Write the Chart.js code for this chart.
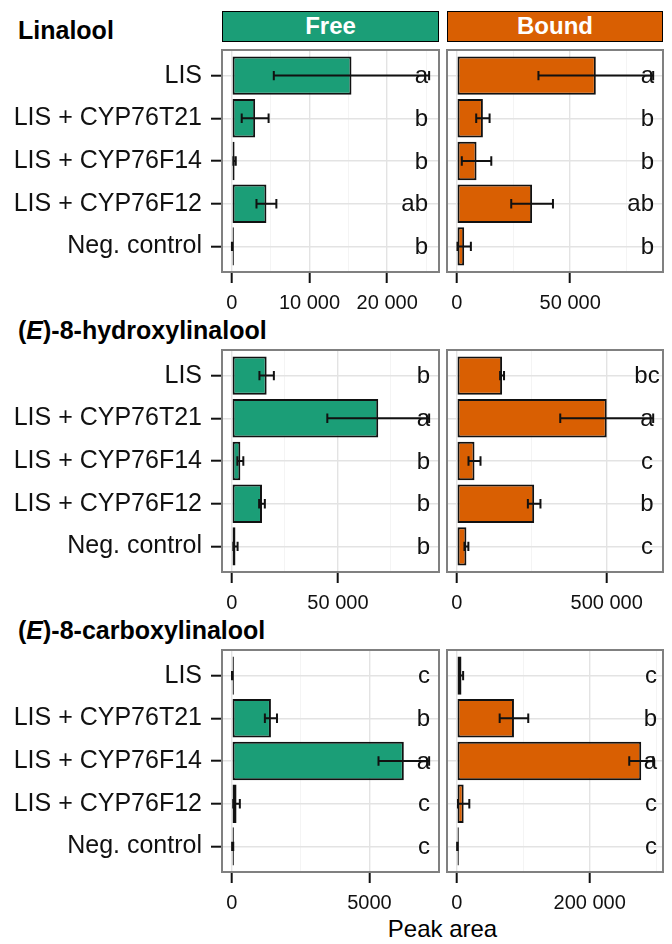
<!DOCTYPE html>
<html><head><meta charset="utf-8">
<script src="https://cdn.jsdelivr.net/npm/chart.js@4.4.1/dist/chart.umd.min.js"></script>
<style>
body{margin:0;background:#fff;}
#wrap{position:relative;width:672px;height:944px;overflow:hidden;font-family:'Liberation Sans',Arial,Helvetica,sans-serif;background:#fff;}
canvas{position:absolute;}
.title{position:absolute;left:18px;font-weight:bold;font-size:25px;line-height:25px;white-space:nowrap;color:#000;}
.strip{position:absolute;top:11px;height:31px;box-sizing:border-box;border:1.5px solid #000;color:#fff;font-weight:bold;font-size:24px;line-height:28px;text-align:center;}
.xlab{position:absolute;left:222px;width:441px;top:917px;font-size:24px;line-height:24px;text-align:center;color:#000;}
</style></head>
<body><div id="wrap">
<div class="strip" style="left:222px;width:217px;background:#1b9e77;">Free</div>
<div class="strip" style="left:447px;width:216px;background:#d95f02;">Bound</div>
<div class="title" style="top:18px;">Linalool</div>
<div class="title" style="top:318px;">(<i>E</i>)-8-hydroxylinalool</div>
<div class="title" style="top:618px;">(<i>E</i>)-8-carboxylinalool</div>
<div class="xlab">Peak area</div>
</div>
<script>
// ---------- data ----------
const categories = ['LIS', 'LIS + CYP76T21', 'LIS + CYP76F14', 'LIS + CYP76F12', 'Neg. control'];

const linaloolFreeMean  = [15400, 3000, 350, 4450, 30];
const linaloolFreeSE    = [10000, 1730, 150, 1280, 20];
const linaloolFreeLetters = ['a', 'b', 'b', 'ab', 'b'];
const linaloolBoundMean = [61300, 11500, 8700, 33200, 3250];
const linaloolBoundSE   = [25300, 2950, 6500, 9200, 2950];
const linaloolBoundLetters = ['a', 'b', 'b', 'ab', 'b'];

const hydroxyFreeMean  = [16400, 69000, 4000, 14200, 1700];
const hydroxyFreeSE    = [3400, 24000, 1400, 1350, 1000];
const hydroxyFreeLetters = ['b', 'a', 'b', 'b', 'b'];
const hydroxyBoundMean = [151000, 500000, 59000, 258000, 32000];
const hydroxyBoundSE   = [6500, 155000, 20000, 21000, 6500];
const hydroxyBoundLetters = ['bc', 'a', 'c', 'b', 'c'];

const carboxyFreeMean  = [10, 1420, 6250, 170, 30];
const carboxyFreeSE    = [5, 220, 920, 120, 20];
const carboxyFreeLetters = ['c', 'b', 'a', 'c', 'c'];
const carboxyBoundMean = [7000, 86000, 277500, 10300, 800];
const carboxyBoundSE   = [2500, 21500, 18000, 8500, 300];
const carboxyBoundLetters = ['c', 'b', 'a', 'c', 'c'];

const linaloolFreeTicks = [0, 10000, 20000];
const linaloolFreeTickLabels = ['0', '10 000', '20 000'];
const linaloolBoundTicks = [0, 50000];
const linaloolBoundTickLabels = ['0', '50 000'];
const hydroxyFreeTicks = [0, 50000];
const hydroxyFreeTickLabels = ['0', '50 000'];
const hydroxyBoundTicks = [0, 500000];
const hydroxyBoundTickLabels = ['0', '500 000'];
const carboxyFreeTicks = [0, 5000];
const carboxyFreeTickLabels = ['0', '5000'];
const carboxyBoundTicks = [0, 200000];
const carboxyBoundTickLabels = ['0', '200 000'];

const freeColor = '#1b9e77';
const boundColor = '#d95f02';

// ---------- layout ----------
Chart.defaults.font.family = "'Liberation Sans', Arial, Helvetica, sans-serif";
Chart.defaults.color = '#111';

const panels = [
  {mean: linaloolFreeMean, se: linaloolFreeSE, letters: linaloolFreeLetters, ticks: linaloolFreeTicks, tickLabels: linaloolFreeTickLabels, color: freeColor, free: true, top: 50, lblAlign: 'right', lblOff: 11},
  {mean: linaloolBoundMean, se: linaloolBoundSE, letters: linaloolBoundLetters, ticks: linaloolBoundTicks, tickLabels: linaloolBoundTickLabels, color: boundColor, free: false, top: 50, lblAlign: 'right', lblOff: 9},
  {mean: hydroxyFreeMean, se: hydroxyFreeSE, letters: hydroxyFreeLetters, ticks: hydroxyFreeTicks, tickLabels: hydroxyFreeTickLabels, color: freeColor, free: true, top: 350, lblAlign: 'right', lblOff: 9},
  {mean: hydroxyBoundMean, se: hydroxyBoundSE, letters: hydroxyBoundLetters, ticks: hydroxyBoundTicks, tickLabels: hydroxyBoundTickLabels, color: boundColor, free: false, top: 350, lblAlign: 'center', lblOff: 16},
  {mean: carboxyFreeMean, se: carboxyFreeSE, letters: carboxyFreeLetters, ticks: carboxyFreeTicks, tickLabels: carboxyFreeTickLabels, color: freeColor, free: true, top: 650, lblAlign: 'right', lblOff: 9},
  {mean: carboxyBoundMean, se: carboxyBoundSE, letters: carboxyBoundLetters, ticks: carboxyBoundTicks, tickLabels: carboxyBoundTickLabels, color: boundColor, free: false, top: 650, lblAlign: 'right', lblOff: 6}
];

const wrap = document.getElementById('wrap');
const PANEL_H = 222;

panels.forEach(p => {
  const cv = document.createElement('canvas');
  const left = p.free ? 0 : 441;
  const w = p.free ? 445 : 231;
  const h = 10 + PANEL_H + 42;
  cv.width = w; cv.height = h;
  cv.style.left = left + 'px';
  cv.style.top = (p.top - 10) + 'px';
  cv.style.width = w + 'px'; cv.style.height = h + 'px';
  wrap.appendChild(cv);

  const D = Math.max(...p.mean.map((m, i) => m + p.se[i]));
  const xmin = -0.05 * D, xmax = 1.05 * D;
  const half = (p.ticks[1] - p.ticks[0]) / 2;
  const isMajor = v => p.ticks.some(t => Math.abs(t - v) < 1e-6);
  const labelFor = v => { const k = p.ticks.findIndex(t => Math.abs(t - v) < 1e-6); return k >= 0 ? p.tickLabels[k] : ''; };

  const plugin = {
    id: 'panelDeco',
    afterDatasetsDraw(chart) {
      const ctx = chart.ctx, xs = chart.scales.x, ys = chart.scales.y;
      ctx.save();
      ctx.strokeStyle = '#111';
      ctx.lineWidth = 2;
      p.mean.forEach((m, i) => {
        const y = ys.getPixelForValue(i);
        const cap = Math.abs(ys.getPixelForValue(i + 0.11) - y);
        const x1 = xs.getPixelForValue(m - p.se[i]);
        const x2 = xs.getPixelForValue(m + p.se[i]);
        ctx.beginPath();
        ctx.moveTo(x1, y); ctx.lineTo(x2, y);
        ctx.moveTo(x1, y - cap); ctx.lineTo(x1, y + cap);
        ctx.moveTo(x2, y - cap); ctx.lineTo(x2, y + cap);
        ctx.stroke();
      });
      ctx.restore();
    },
    afterDraw(chart) {
      const ctx = chart.ctx, a = chart.chartArea, ys = chart.scales.y;
      ctx.save();
      ctx.font = "24px 'Liberation Sans', Arial, sans-serif";
      ctx.fillStyle = '#111';
      ctx.textAlign = p.lblAlign;
      ctx.textBaseline = 'middle';
      p.letters.forEach((l, i) => {
        ctx.fillText(l, a.right - p.lblOff, ys.getPixelForValue(i) + 1);
      });
      ctx.strokeStyle = '#808080';
      ctx.lineWidth = 2;
      ctx.strokeRect(a.left, a.top, a.right - a.left, a.bottom - a.top);
      ctx.restore();
    }
  };

  new Chart(cv, {
    type: 'bar',
    data: {
      datasets: [{
        data: p.mean.map((m, i) => ({x: m, y: i})),
        backgroundColor: p.color,
        borderColor: '#111',
        borderWidth: 2,
        borderSkipped: false,
        barPercentage: 0.9,
        categoryPercentage: 1,
        minBarLength: 2
      }]
    },
    options: {
      indexAxis: 'y',
      responsive: false,
      animation: false,
      events: [],
      layout: {padding: p.free ? {left: 0, right: 6, top: 10, bottom: 0} : {left: 6, right: 9, top: 10, bottom: 0}},
      plugins: {legend: {display: false}, tooltip: {enabled: false}},
      scales: {
        x: {
          type: 'linear', min: xmin, max: xmax, offset: false,
          afterBuildTicks: s => {
            const t = [];
            for (let k = Math.ceil(xmin / half); k * half <= xmax; k++) t.push({value: k * half});
            s.ticks = t;
          },
          ticks: {callback: v => labelFor(v), autoSkip: false, maxRotation: 0, minRotation: 0, padding: 8, font: {size: 20}, color: '#111'},
          grid: {
            offset: false,
            color: c => (c.tick && isMajor(c.tick.value)) ? '#e3e3e3' : '#f1f1f1',
            lineWidth: c => (c.tick && isMajor(c.tick.value)) ? 1.4 : 0.8,
            tickLength: 11,
            tickWidth: 2,
            tickColor: c => (c.tick && isMajor(c.tick.value)) ? '#111' : 'rgba(0,0,0,0)'
          },
          border: {display: false},
          afterFit: s => { s.height = 42; s.paddingLeft = 0; s.paddingRight = 0; }
        },
        y: {
          type: 'linear', min: -0.6, max: categories.length - 1 + 0.6, reverse: true, offset: false,
          afterBuildTicks: s => { s.ticks = categories.map((c, i) => ({value: i})); },
          ticks: {display: p.free, callback: v => categories[v], autoSkip: false, font: {size: 25}, color: '#111', padding: 9},
          grid: {offset: false, color: '#e3e3e3', lineWidth: 1.4, drawTicks: p.free, tickLength: 11, tickWidth: 2, tickColor: '#111'},
          border: {display: false},
          afterFit: s => { s.width = p.free ? 222 : 0; s.paddingTop = 0; s.paddingBottom = 0; }
        }
      }
    },
    plugins: [plugin]
  });
});
</script>
</body></html>
